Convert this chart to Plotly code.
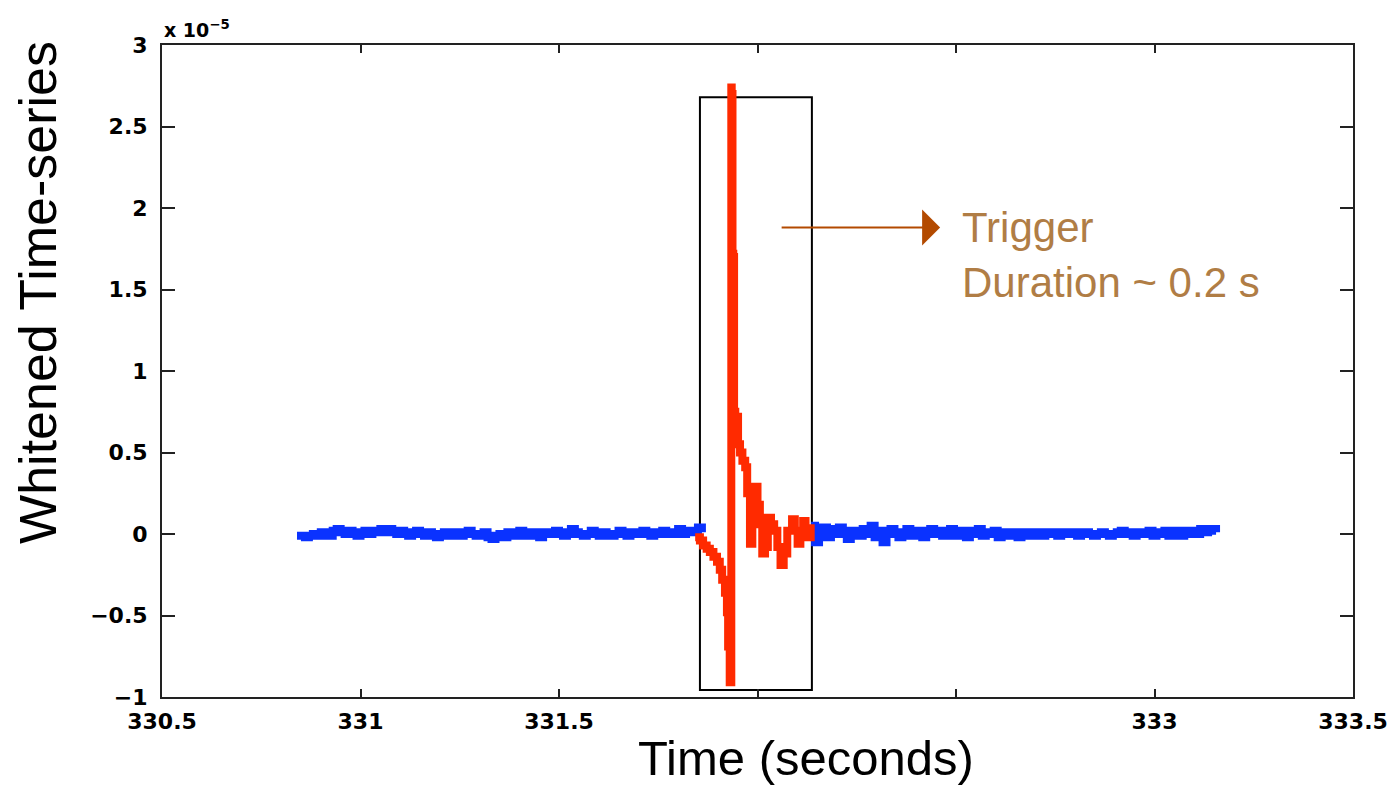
import numpy as np
import plotly.graph_objects as go

# ---- data (values in units of 1e-5) ----
blue_left_start = 330.84
blue_right_start = 332.135
blue_dt = 0.01
blue_left = [-0.01,-0.01,-0.02,-0.01,0.00,-0.01,0.01,0.00,-0.01,0.02,
             0.03,0.01,0.00,0.02,0.01,-0.01,0.01,0.02,0.00,0.01,
             0.02,0.03,0.01,0.03,0.02,0.00,0.02,0.01,-0.01,0.00,
             0.02,0.00,-0.01,0.01,0.00,-0.02,0.00,0.01,-0.01,0.00,
             0.01,-0.01,0.00,0.02,0.00,-0.01,0.00,0.01,-0.02,-0.03,
             -0.01,0.00,-0.02,0.01,0.00,-0.01,0.02,0.01,-0.01,0.00,
             0.01,-0.02,0.00,0.01,0.00,0.02,0.01,-0.01,0.00,0.03,
             0.01,0.00,-0.01,0.00,0.02,0.00,-0.01,0.01,0.00,-0.01,
             0.00,0.02,0.01,-0.01,0.00,0.01,0.00,0.02,0.00,-0.01,
             0.01,0.00,0.02,0.01,0.00,0.01,0.03,0.00,0.02,0.01,
             0.02,0.04,0.01]
blue_right = [0.05,-0.05,0.02,0.04,-0.02,0.03,0.00,0.04,0.01,-0.03,
              0.02,0.01,-0.01,0.03,0.00,0.05,-0.02,0.02,-0.05,0.01,
              0.03,0.00,-0.02,0.01,0.03,-0.01,0.00,0.02,-0.02,0.01,
              0.03,0.00,0.02,-0.01,0.01,0.03,-0.01,0.02,0.00,-0.02,
              0.02,0.00,0.03,-0.01,0.01,0.00,0.02,-0.02,0.01,0.00,
              -0.01,0.01,-0.02,0.00,0.01,-0.01,0.01,0.00,-0.01,0.01,
              0.00,0.01,-0.01,0.00,0.01,0.00,0.01,-0.01,0.00,0.01,
              0.00,-0.01,0.00,0.01,0.00,-0.01,0.00,0.01,0.02,0.00,
              0.01,-0.01,0.00,0.01,0.00,0.02,-0.01,0.01,0.00,0.02,
              -0.01,0.01,0.02,-0.01,0.00,0.02,0.01,0.00,0.03,0.01,
              0.02,0.03,0.01]

red_t = [331.843, 331.855, 331.863, 331.872, 331.880, 331.889, 331.898, 331.905,
         331.911, 331.918, 331.923, 331.926, 331.930, 331.934, 331.935, 331.937,
         331.939, 331.941, 331.944, 331.951, 331.956, 331.962, 331.969, 331.974,
         331.981, 331.987, 331.994, 332.000, 332.006, 332.012, 332.019, 332.026,
         332.034, 332.042, 332.050, 332.058, 332.066, 332.075, 332.087, 332.094,
         332.101, 332.108, 332.115, 332.121, 332.127, 332.134]
red_v = [-0.02, -0.04, -0.07, -0.09, -0.11, -0.14, -0.17, -0.22,
         -0.28, -0.36, -0.48, -0.69, -0.91, 2.74, 2.70, 1.72,
         1.70, 0.75, 0.72, 0.55, 0.50, 0.45, 0.41, 0.25,
         -0.06, 0.12, 0.29, 0.18, 0.06, -0.12, -0.08, 0.10,
         0.06, 0.02, -0.08, -0.19, -0.12, 0.02, 0.09, 0.02,
         -0.06, 0.00, 0.08, 0.02, -0.02, 0.06]

trigger_box = dict(t0=331.855, t1=332.137, v0=-0.957, v1=2.68)
arrow = dict(t0=332.057, t1=332.46, v=1.88)

x_label_vals = [330.5, 331, 331.5, 333, 333.5]
x_label_text = ["330.5", "331", "331.5", "333", "333.5"]
x_unlabeled_ticks = [332, 332.5]

# ---- figure ----
t_left = blue_left_start + blue_dt * np.arange(len(blue_left))
t_right = blue_right_start + blue_dt * np.arange(len(blue_right))

fig = go.Figure()
fig.add_trace(go.Scatter(x=t_left, y=blue_left, mode="lines",
                         line=dict(color="#0A32FF", width=8, shape="hv"), showlegend=False))
fig.add_trace(go.Scatter(x=t_right, y=blue_right, mode="lines",
                         line=dict(color="#0A32FF", width=8, shape="hv"), showlegend=False))
fig.add_trace(go.Scatter(x=red_t, y=red_v, mode="lines",
                         line=dict(color="#FF2A00", width=8, shape="hv"), showlegend=False))

fig.add_shape(type="rect", x0=trigger_box["t0"], x1=trigger_box["t1"],
              y0=trigger_box["v0"], y1=trigger_box["v1"],
              line=dict(color="black", width=2), layer="below")

fig.add_annotation(x=arrow["t1"], y=arrow["v"], ax=arrow["t0"], ay=arrow["v"],
                   xref="x", yref="y", axref="x", ayref="y", text="",
                   showarrow=True, arrowhead=1, arrowsize=3, arrowwidth=2,
                   arrowcolor="#B34A00")
fig.add_annotation(x=332.51, y=1.71, xref="x", yref="y",
                   text="Trigger<br>Duration ~ 0.2 s", showarrow=False,
                   xanchor="left", yanchor="middle", align="left",
                   font=dict(family="Liberation Sans, Arial", size=42, color="#B07D45"))
fig.add_annotation(x=0, y=1.0, xref="paper", yref="paper", yshift=2,
                   text="x 10<sup>\u22125</sup>", showarrow=False,
                   xanchor="left", yanchor="bottom",
                   font=dict(family="DejaVu Sans", size=19, color="black", weight="bold"))
# axis titles
fig.add_annotation(x=-0.104, y=0.62, xref="paper", yref="paper",
                   text="Whitened Time-series", showarrow=False, textangle=-90,
                   xanchor="center", yanchor="middle",
                   font=dict(family="Liberation Sans, Arial", size=52, color="black"))
fig.add_annotation(x=0.541, y=-0.093, xref="paper", yref="paper",
                   text="Time (seconds)", showarrow=False,
                   xanchor="center", yanchor="middle",
                   font=dict(family="Liberation Sans, Arial", size=49, color="black"))

axis_common = dict(showline=True, linecolor="#222", linewidth=2, mirror="allticks",
                   ticks="inside", tickcolor="#222", tickwidth=2,
                   showgrid=False, zeroline=False, automargin=False,
                   tickfont=dict(family="DejaVu Sans", size=22, color="black", weight="bold"))

fig.update_xaxes(range=[330.5, 333.5], tickmode="array",
                 tickvals=x_label_vals, ticktext=x_label_text,
                 ticklen=8, ticklabelstandoff=4,
                 minor=dict(tickmode="array", tickvals=x_unlabeled_ticks, ticks="inside",
                            ticklen=8, tickwidth=2, tickcolor="#222", showgrid=False),
                 **axis_common)
fig.update_yaxes(range=[-1, 3], dtick=0.5, tick0=0, ticklen=13, ticklabelstandoff=8,
                 **axis_common)

fig.update_layout(width=1397, height=789, margin=dict(l=162, r=44, t=45, b=92),
                  paper_bgcolor="white", plot_bgcolor="white")

fig.write_html("out.html")
